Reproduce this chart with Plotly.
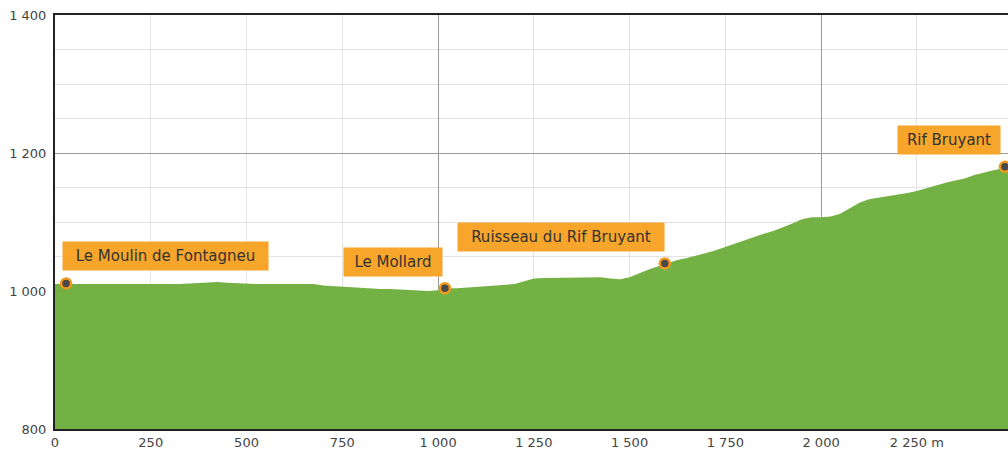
import plotly.graph_objects as go

# ---- data ----
distance_m = [0, 25, 50, 75, 100, 125, 150, 175, 200, 225, 250, 275, 300, 325, 350, 375,
              400, 425, 450, 475, 500, 525, 550, 575, 600, 625, 650, 675, 700, 725, 750,
              775, 800, 825, 850, 875, 900, 925, 950, 975, 1000, 1025, 1050, 1075, 1100,
              1125, 1150, 1175, 1200, 1225, 1250, 1275, 1300, 1325, 1350, 1375, 1400,
              1425, 1450, 1475, 1500, 1525, 1550, 1575, 1600, 1625, 1650, 1675, 1700,
              1725, 1750, 1775, 1800, 1825, 1850, 1875, 1900, 1925, 1950, 1975, 2000,
              2025, 2050, 2075, 2100, 2125, 2150, 2175, 2200, 2225, 2250, 2275, 2300,
              2325, 2350, 2375, 2400, 2425, 2450, 2475, 2490]
elevation_m = [1010, 1010, 1009, 1009, 1009, 1009, 1009, 1009, 1010, 1010, 1009, 1010, 1010,
               1010, 1011, 1012, 1013, 1013, 1012, 1011, 1010, 1010, 1010, 1010, 1011, 1011,
               1011, 1010, 1008, 1007, 1006, 1005, 1004, 1004, 1003, 1003, 1002, 1001, 1000,
               1000, 1001, 1004, 1004, 1005, 1006, 1007, 1007, 1008, 1010, 1014, 1018, 1019,
               1019, 1019, 1019, 1020, 1020, 1020, 1018, 1017, 1020, 1026, 1031, 1036, 1041,
               1045, 1048, 1051, 1055, 1059, 1064, 1069, 1074, 1078, 1083, 1087, 1092, 1098,
               1104, 1107, 1107, 1108, 1112, 1120, 1128, 1133, 1135, 1137, 1140, 1142, 1145,
               1149, 1154, 1157, 1160, 1163, 1168, 1172, 1175, 1178, 1181]

waypoint_names = ["Le Moulin de Fontagneu", "Le Mollard", "Ruisseau du Rif Bruyant", "Rif Bruyant"]
waypoint_dist = [29, 1018, 1592, 2480]
waypoint_elev = [1011, 1004, 1040, 1180]
label_dist = [288, 882, 1321, 2334]
label_elev = [1051, 1042, 1078, 1219]
label_box_width = [195, 88, 196, 92]

x_tickvals = [0, 250, 500, 750, 1000, 1250, 1500, 1750, 2000, 2250]
x_ticktext = ["0", "250", "500", "750", "1 000", "1 250", "1 500", "1 750", "2 000", "2 250 m"]
y_tickvals = [800, 1000, 1200, 1400]
y_ticktext = ["800", "1 000", "1 200", "1 400"]
x_major_grid = [1000, 2000]

FONT = "DejaVu Sans"
GREEN = "#74b145"
ORANGE = "#f7a52b"

fig = go.Figure()

fig.add_trace(go.Scatter(
    x=distance_m, y=elevation_m, mode="lines", line=dict(width=0, color=GREEN),
    fill="tozeroy", fillcolor=GREEN, hoverinfo="skip", showlegend=False,
))

fig.add_trace(go.Scatter(
    x=waypoint_dist, y=waypoint_elev, mode="markers",
    marker=dict(size=10, color="#4a4a4a", line=dict(color="#f39a1e", width=2.5)),
    showlegend=False, cliponaxis=False,
))

# invisible trace on an overlay axis for the darker gridlines
fig.add_trace(go.Scatter(x=[], y=[], xaxis="x2", showlegend=False))

for name, lx, ly, w in zip(waypoint_names, label_dist, label_elev, label_box_width):
    fig.add_annotation(
        x=lx, y=ly, xref="x", yref="y", text=name, showarrow=False,
        font=dict(family=FONT, size=15, color="#333333"),
        bgcolor=ORANGE, borderpad=5, width=w, height=18, align="center",
        xanchor="center", yanchor="middle",
    )

fig.update_layout(
    width=1008, height=453,
    margin=dict(l=55, r=0, t=15, b=24),
    paper_bgcolor="white", plot_bgcolor="white",
    font=dict(family=FONT, size=13, color="#444444"),
    xaxis=dict(
        range=[0, 2488], tickvals=x_tickvals, ticktext=x_ticktext,
        showgrid=True, gridcolor="#e3e3e3", gridwidth=1, zeroline=False,
        showline=True, linecolor="#222222", linewidth=2, mirror=True,
        ticks="", tickfont=dict(family=FONT, size=13, color="#444444"),
    ),
    xaxis2=dict(
        range=[0, 2488], overlaying="x", tickvals=x_major_grid,
        showgrid=True, gridcolor="#9a9a9a", gridwidth=1, showticklabels=False,
        zeroline=False, showline=False, ticks="",
    ),
    yaxis=dict(
        range=[800, 1400], tickvals=y_tickvals, ticktext=y_ticktext,
        showgrid=True, gridcolor="#9a9a9a", gridwidth=1, zeroline=False,
        minor=dict(dtick=50, showgrid=True, gridcolor="#e3e3e3", gridwidth=1),
        showline=True, linecolor="#222222", linewidth=2,
        ticks="", ticklabelstandoff=4,
        tickfont=dict(family=FONT, size=13, color="#444444"),
    ),
    showlegend=False,
)

fig.write_html(
    "out.html",
    config={"displayModeBar": False},
    post_script="document.body.style.margin='0';document.body.style.overflow='hidden';",
)
